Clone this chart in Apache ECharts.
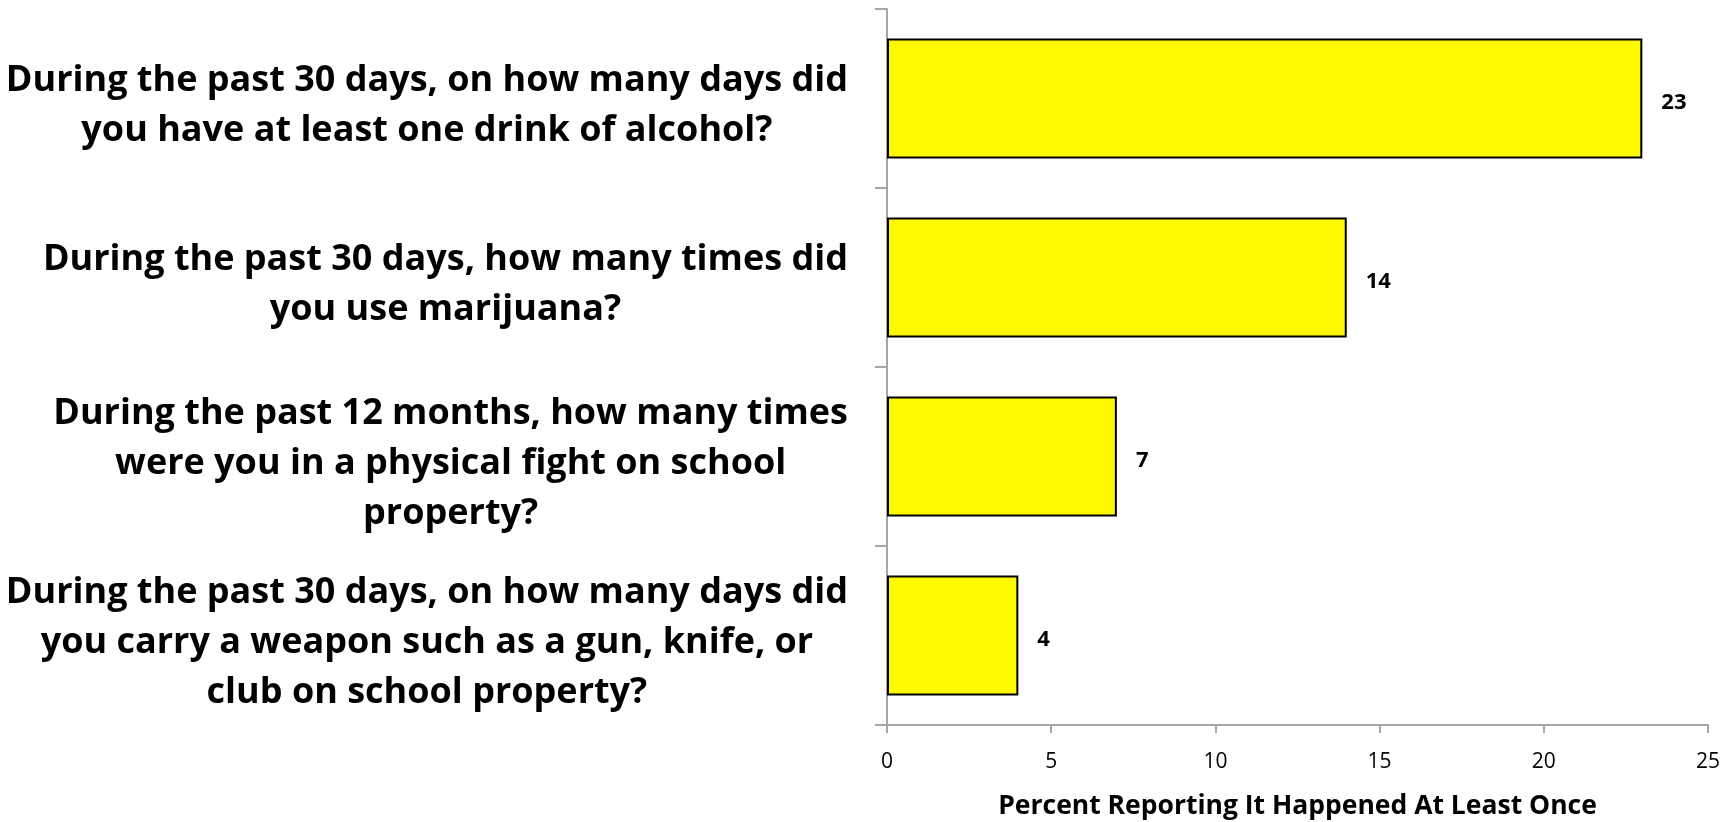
<!DOCTYPE html>
<html>
<head>
<meta charset="utf-8">
<style>
  html, body { margin: 0; padding: 0; background: #ffffff; }
  #chart { width: 1736px; height: 822px; }
</style>
<script src="https://cdn.jsdelivr.net/npm/echarts@6/dist/echarts.min.js"></script>
</head>
<body>
<div id="chart"></div>
<script>
// Survey questions, top to bottom, with their line breaks
const questions = [
  'During the past 30 days, on how many days did\nyou have at least one drink of alcohol?',
  'During the past 30 days, how many times did\nyou use marijuana?',
  'During the past 12 months, how many times\nwere you in a physical fight on school\nproperty?',
  'During the past 30 days, on how many days did\nyou carry a weapon such as a gun, knife, or\nclub on school property?'
];
// Percent of students reporting the behaviour at least once
const percents = [23, 14, 7, 4];
// Value axis range and step
const xMin = 0;
const xMax = 25;
const xStep = 5;
const xTitle = 'Percent Reporting It Happened At Least Once';

const FONT = '"Open Sans", Lato, sans-serif';
const AXIS_GREY = '#a6a6a6';

const chart = echarts.init(document.getElementById('chart'), null, { renderer: 'canvas' });

chart.setOption({
  animation: false,
  backgroundColor: '#ffffff',
  grid: { left: 887, right: 28, top: 9, bottom: 97, containLabel: false, outerBoundsMode: 'none' },
  xAxis: {
    type: 'value',
    min: xMin,
    max: xMax,
    interval: xStep,
    name: xTitle,
    nameLocation: 'middle',
    nameGap: 68,
    nameTextStyle: { fontFamily: FONT, fontWeight: 'bold', fontSize: 26.5, color: '#000000' },
    axisLine: { show: true, lineStyle: { color: AXIS_GREY, width: 2 } },
    axisTick: { show: true, length: 8, lineStyle: { color: AXIS_GREY, width: 2 } },
    axisLabel: { fontFamily: FONT, fontSize: 21, color: '#000000', margin: 27 },
    splitLine: { show: false }
  },
  yAxis: {
    type: 'category',
    inverse: true,
    data: questions,
    axisLine: { show: true, lineStyle: { color: AXIS_GREY, width: 2 } },
    axisTick: { show: true, length: 12, alignWithLabel: false, lineStyle: { color: AXIS_GREY, width: 2 } },
    axisLabel: {
      margin: 39,
      padding: [14, 0, 0, 0],
      formatter: function (v) {
        return v.split('\n').map(function (line) { return '{q|' + line + '}'; }).join('\n');
      },
      rich: {
        q: {
          align: 'center',
          fontFamily: FONT,
          fontWeight: 'bold',
          fontSize: 36,
          lineHeight: 50,
          color: '#000000'
        }
      }
    },
    splitLine: { show: false }
  },
  series: [{
    type: 'bar',
    data: percents,
    barCategoryGap: '33%',
    itemStyle: { color: '#fff900', borderColor: '#000000', borderWidth: 2 },
    label: {
      show: true,
      position: 'right',
      distance: 19,
      offset: [0, 4],
      fontFamily: FONT,
      fontWeight: 'bold',
      fontSize: 22,
      color: '#000000'
    }
  }]
});
</script>
</body>
</html>
